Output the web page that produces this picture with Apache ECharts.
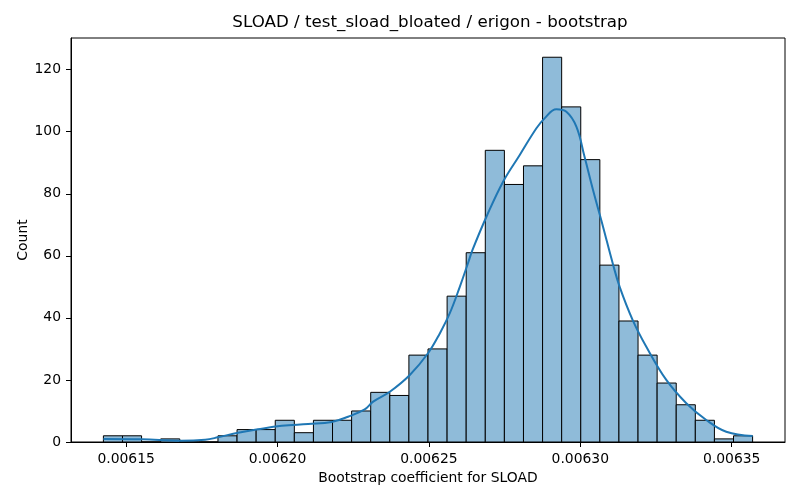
<!DOCTYPE html>
<html>
<head>
<meta charset="utf-8">
<script src="https://cdn.jsdelivr.net/npm/echarts@6/dist/echarts.min.js"></script>
<style>
  html, body { margin: 0; padding: 0; background: #fff; }
  #chart { width: 800px; height: 500px; }
</style>
</head>
<body>
<div id="chart"></div>
<script>
// histogram: 34 bins between histMin and histMax
var histMin = 0.0061425;
var histMax = 0.0063569;
var counts = [2, 2, 0, 1, 0, 0, 2, 4, 4, 7, 3, 7, 7, 10, 16, 15, 28, 30, 47, 61,
  94, 83, 89, 124, 108, 91, 57, 39, 28, 19, 12, 7, 1, 2];

// kde curve
var kdeX = [0.0061425, 0.0061552, 0.0061681, 0.0061761, 0.0061803, 0.0061870, 0.0061935,
  0.0062014, 0.0062101, 0.0062179, 0.0062233, 0.0062288, 0.0062316, 0.0062371, 0.0062437,
  0.0062497, 0.0062536, 0.0062569, 0.0062602, 0.0062629, 0.0062644, 0.0062690, 0.0062745,
  0.0062800, 0.0062855, 0.0062882, 0.0062921, 0.0062954, 0.0062987, 0.0063014, 0.0063042,
  0.0063075, 0.0063107, 0.0063130, 0.0063173, 0.0063218, 0.0063284, 0.0063350, 0.0063416,
  0.0063482, 0.0063569];
var kdeY = [0.97, 0.87, 0.42, 0.74, 1.5, 3.0, 4.1, 5.2, 5.8, 6.45, 8.15, 10.5, 13.0, 16.2,
  21.6, 28.6, 35.0, 41.5, 50.0, 57.6, 61.9, 72.6, 83.9, 92.5, 101.1, 104.3, 107.2, 106.4,
  101.6, 91.9, 81.2, 69.4, 57.6, 50.0, 39.3, 30.7, 20.0, 12.5, 7.1, 3.3, 1.9];

var meanValue = 0.0062879;
var xTicks = [0.00615, 0.00620, 0.00625, 0.00630, 0.00635];
var yTicks = [0, 20, 40, 60, 80, 100, 120];

var binWidth = (histMax - histMin) / counts.length;
var bars = counts.map(function (c, i) {
  return [histMin + i * binWidth, histMin + (i + 1) * binWidth, c];
});
var kde = kdeX.map(function (x, i) { return [x, kdeY[i]]; });

var font = 'DejaVu Sans';
var chart = echarts.init(document.getElementById('chart'));
chart.setOption({
  animation: false,
  textStyle: { fontFamily: font },
  title: {
    text: 'SLOAD / test_sload_bloated / erigon - bootstrap',
    left: 425, top: 9, textAlign: 'center',
    textStyle: { fontFamily: font, fontSize: 16.7, fontWeight: 'normal', color: '#000' }
  },
  grid: {
    left: 71, right: 15, top: 38, bottom: 58,
    show: true, borderColor: '#000', borderWidth: 1, backgroundColor: 'transparent'
  },
  xAxis: {
    type: 'value',
    min: 0.0061318, max: 0.0063676,
    name: 'Bootstrap coefficient for SLOAD',
    nameLocation: 'middle', nameGap: 29,
    nameTextStyle: { fontFamily: font, fontSize: 13.9, color: '#000' },
    splitLine: { show: false },
    axisLine: { lineStyle: { color: '#000', width: 1 } },
    axisTick: { length: 5, lineStyle: { color: '#000' }, customValues: xTicks },
    axisLabel: {
      customValues: xTicks, margin: 10, color: '#000', fontSize: 13.9, fontFamily: font,
      formatter: function (v) { return v.toFixed(5); }
    }
  },
  yAxis: {
    type: 'value',
    min: 0, max: 130.2,
    name: 'Count',
    nameLocation: 'middle', nameGap: 41,
    nameMoveOverlap: false,
    nameTextStyle: { fontFamily: font, fontSize: 13.9, color: '#000' },
    splitLine: { show: false },
    axisLine: { show: true, lineStyle: { color: '#000', width: 1 } },
    axisTick: { show: true, length: 5, lineStyle: { color: '#000' }, customValues: yTicks },
    axisLabel: { customValues: yTicks, margin: 10, color: '#000', fontSize: 13.9, fontFamily: font }
  },
  series: [
    {
      type: 'custom',
      data: bars,
      encode: { x: [0, 1], y: 2 },
      renderItem: function (params, api) {
        var p0 = api.coord([api.value(0), api.value(2)]);
        var p1 = api.coord([api.value(1), 0]);
        return {
          type: 'rect',
          shape: { x: p0[0], y: p0[1], width: p1[0] - p0[0], height: p1[1] - p0[1] },
          style: { fill: '#8fbbd9', stroke: '#000', lineWidth: 1 }
        };
      },
      z: 2
    },
    {
      type: 'line',
      data: kde,
      smooth: 0.4,
      showSymbol: false,
      lineStyle: { color: '#1f77b4', width: 2 },
      z: 3,
      markLine: {
        silent: true,
        symbol: 'none',
        label: { show: false },
        lineStyle: { color: '#ff0000', type: [5, 3], width: 1.4 },
        data: [{ xAxis: meanValue }]
      }
    }
  ]
});
</script>
</body>
</html>
